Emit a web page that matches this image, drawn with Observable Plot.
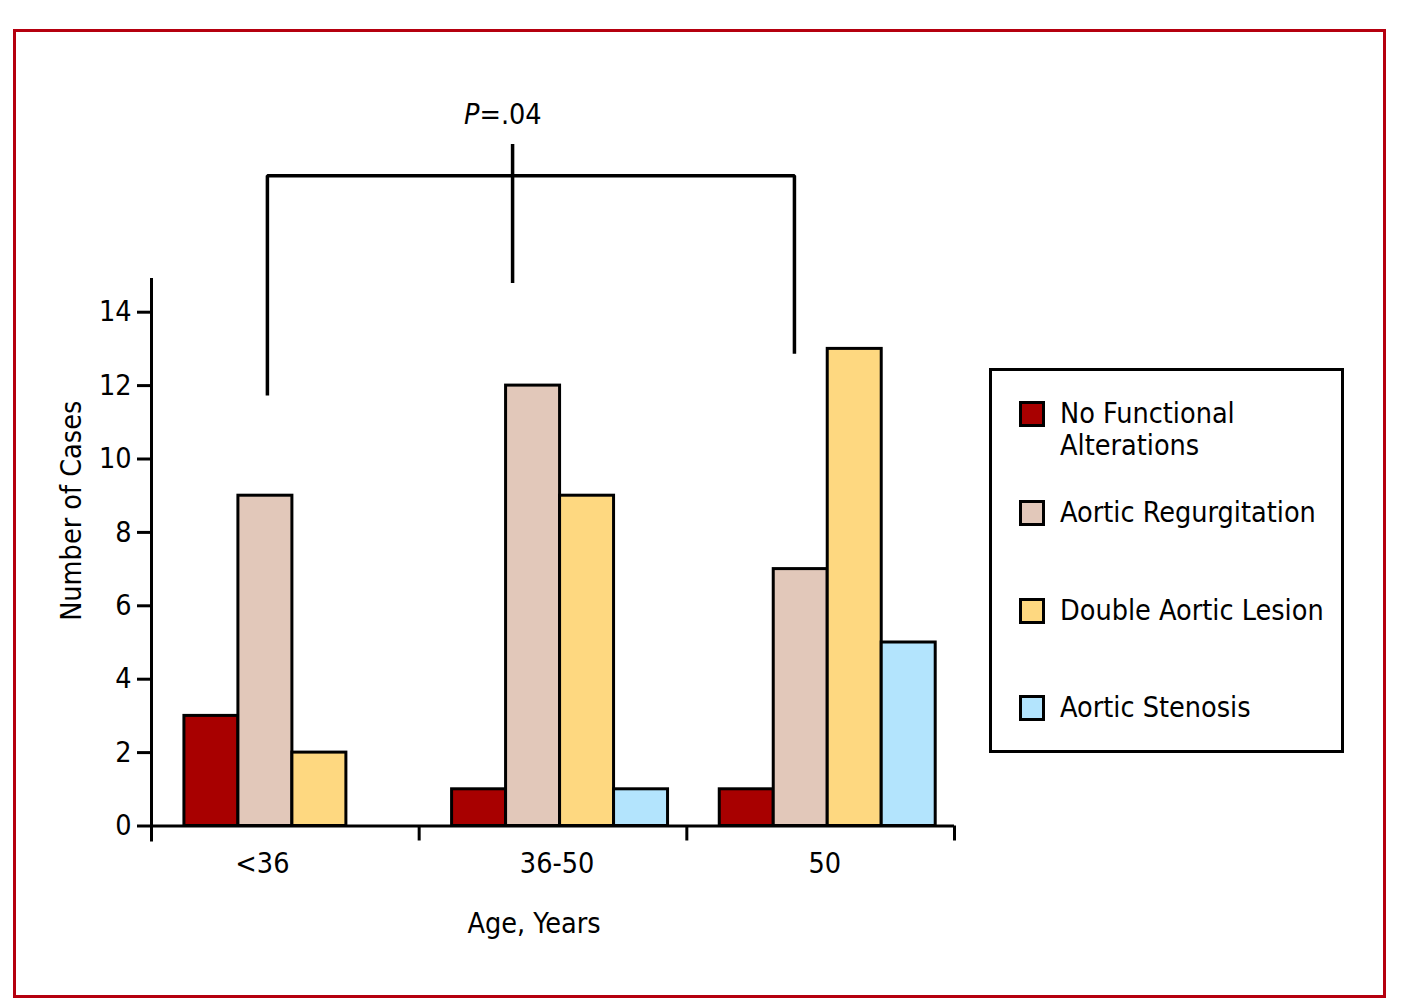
<!DOCTYPE html>
<html>
<head>
<meta charset="utf-8">
<script src="https://cdn.jsdelivr.net/npm/d3@7"></script>
<script src="https://cdn.jsdelivr.net/npm/@observablehq/plot@0.6"></script>
<style>
  body { margin: 0; width: 1404px; height: 1008px; overflow: hidden; background: #fff; position: relative;
         font-family: 'DejaVu Sans Condensed', 'Liberation Sans Narrow', sans-serif; font-stretch: condensed; }
  #chart { position: absolute; left: 0; top: 0; }
  #border { position: absolute; left: 13px; top: 29px; width: 1373px; height: 969px;
            border: 3px solid #b5000f; box-sizing: border-box; pointer-events: none; }
  #legend { position: absolute; left: 989px; top: 368px; width: 355px; height: 385px;
            border: 3px solid #000; box-sizing: border-box; background: #fff; }
  .item { position: absolute; left: 27px; }
  .sw { position: absolute; left: 0; top: 0; width: 26px; height: 26px; border: 3px solid #000; box-sizing: border-box; }
  .lab { position: absolute; left: 41px; top: -3px; font-size: 28.5px; line-height: 32px;
         white-space: nowrap; color: #000; }
</style>
</head>
<body>
<div id="chart"></div>
<div id="legend"></div>
<div id="border"></div>
<script>
// ---- data ----
const groups = ["<36", "36-50", "50"];
const series = ["No Functional Alterations", "Aortic Regurgitation", "Double Aortic Lesion", "Aortic Stenosis"];
const legendLines = [["No Functional", "Alterations"], ["Aortic Regurgitation"], ["Double Aortic Lesion"], ["Aortic Stenosis"]];
const noFunctional  = [3, 1, 1];
const regurgitation = [9, 12, 7];
const doubleLesion  = [2, 9, 13];
const stenosis      = [0, 1, 5];
const yTicks = [0, 2, 4, 6, 8, 10, 12, 14];
const colors = ["#a80000", "#e2c8ba", "#fed880", "#b3e4fd"];
const xLabel = "Age, Years";
const yLabel = "Number of Cases";
const pLabel = ["P", "=.04"];

// annotation (significance bracket) in data units: x in group units, y in cases
const bracket = { x1: 0.433, x2: 2.402, top: 17.72, leftBottom: 11.73, rightBottom: 12.87,
                  tickX: 1.349, tickBottom: 14.78, tickTop: 18.57, labelX: 1.225, labelY: 19.39 };

// ---- layout constants ----
const groupOffset = 0.123;  // gap before first bar, in group units
const barWidth = 0.2017;    // bar width, in group units
const font = "'DejaVu Sans Condensed', 'Liberation Sans Narrow', sans-serif";
const fs = 28.5;

// ---- build table ----
const valuesBySeries = [noFunctional, regurgitation, doubleLesion, stenosis];
const bars = [];
groups.forEach((g, gi) => series.forEach((s, si) => {
  const v = valuesBySeries[si][gi];
  if (v > 0) bars.push({ group: g, gi, series: s, si, value: v });
}));
const counts = groups.map((g, gi) => bars.filter(b => b.gi === gi).length);
const groupLabels = groups.map((g, gi) => ({ label: g, x: gi + groupOffset + counts[gi] * barWidth / 2 }));
const bracketPath = [
  { x: bracket.x1, y: bracket.leftBottom },
  { x: bracket.x1, y: bracket.top },
  { x: bracket.x2, y: bracket.top },
  { x: bracket.x2, y: bracket.rightBottom }
];

const chart = Plot.plot({
  width: 1404, height: 1008,
  marginLeft: 151, marginRight: 450, marginTop: 275, marginBottom: 182.5,
  style: { fontFamily: font, fontSize: fs + "px", background: "transparent" },
  x: { domain: [0, 3] },
  y: { domain: [0, 15] },
  color: { domain: series, range: colors },
  marks: [
    Plot.rectY(bars, {
      x1: d => d.gi + groupOffset + d.si * barWidth,
      x2: d => d.gi + groupOffset + (d.si + 1) * barWidth,
      y1: 0, y2: "value", fill: "series", stroke: "black", strokeWidth: 3
    }),
    Plot.ruleY([0], { strokeWidth: 3 }),
    Plot.ruleX([0], { strokeWidth: 3, insetTop: 3, insetBottom: -16 }),
    Plot.axisY({ ticks: yTicks, tickSize: 14, tickPadding: 6, strokeWidth: 3, fontSize: fs, label: null }),
    Plot.axisX({ ticks: [0, 1, 2, 3], tickSize: 15, strokeWidth: 3, tickFormat: () => "", label: null }),
    Plot.text(groupLabels, { x: "x", y: () => 0, text: "label", dy: 38, dx: -3, fontSize: fs }),
    Plot.text([xLabel], { frameAnchor: "bottom", lineAnchor: "middle", textAnchor: "middle", dx: -19, dy: 98, fontSize: fs }),
    Plot.text([yLabel], { frameAnchor: "left", lineAnchor: "middle", textAnchor: "middle", rotate: -90, dx: -79.5, dy: -40, fontSize: fs }),
    Plot.line(bracketPath, { x: "x", y: "y", strokeWidth: 3.5, strokeLinejoin: "miter", strokeLinecap: "butt" }),
    Plot.ruleX([bracket], { x: "tickX", y1: "tickBottom", y2: "tickTop", strokeWidth: 3.5 }),
    Plot.text([pLabel[0]], { x: () => bracket.labelX, y: () => bracket.labelY, textAnchor: "end", fontStyle: "italic", fontSize: fs }),
    Plot.text([pLabel[1]], { x: () => bracket.labelX, y: () => bracket.labelY, textAnchor: "start", fontSize: fs })
  ]
});
document.getElementById("chart").appendChild(chart);

// ---- legend ----
const swTops = [30, 129, 227, 324];
const legend = document.getElementById("legend");
series.forEach((s, i) => {
  const item = document.createElement("div");
  item.className = "item";
  item.style.top = swTops[i] + "px";
  const sw = document.createElement("div");
  sw.className = "sw";
  sw.style.background = colors[i];
  const lab = document.createElement("div");
  lab.className = "lab";
  lab.innerHTML = legendLines[i].join("<br>");
  item.appendChild(sw);
  item.appendChild(lab);
  legend.appendChild(item);
});
</script>
</body>
</html>
